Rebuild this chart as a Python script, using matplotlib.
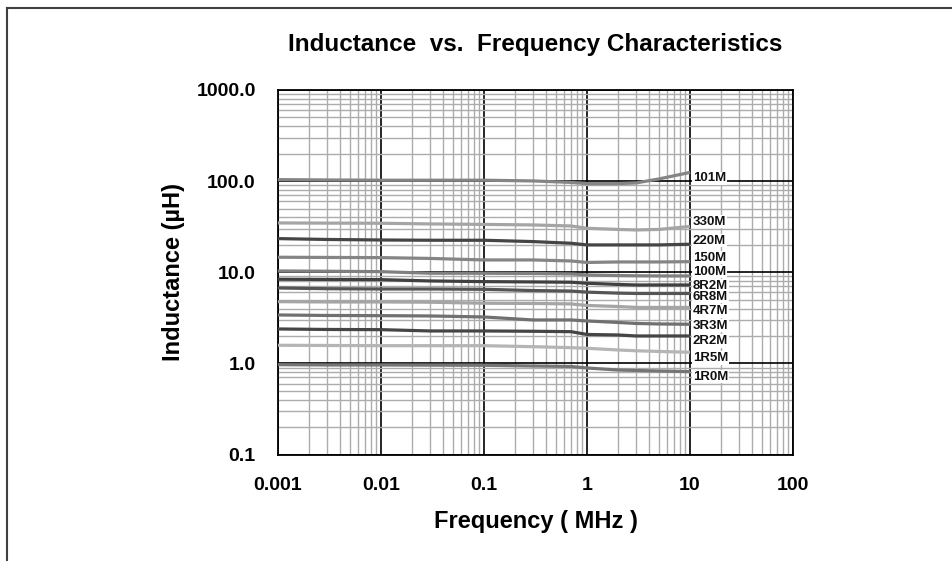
import numpy as np
import matplotlib
matplotlib.use("Agg")
import matplotlib.pyplot as plt
from matplotlib.lines import Line2D
from matplotlib.ticker import LogLocator, NullFormatter

plt.rcParams['font.family'] = ['Liberation Sans', 'DejaVu Sans']

# ---- data ----
freq = [0.001, 0.003, 0.01, 0.03, 0.1, 0.3, 0.7, 1, 2, 3, 5, 10]  # MHz

names = ["101M", "330M", "220M", "150M", "100M", "8R2M", "6R8M",
         "4R7M", "3R3M", "2R2M", "1R5M", "1R0M"]

L_101M = [103.9, 103.0, 102.3, 102.3, 102.3, 100.5, 96.8, 93.9, 93.9, 95.5, 105.7, 124.6]
L_330M = [34.76, 34.6, 34.5, 33.9, 33.5, 33.05, 32.2, 30.4, 29.5, 29.1, 29.5, 31.8]
L_220M = [23.4, 22.9, 22.6, 22.45, 22.45, 21.7, 20.8, 19.95, 19.95, 19.95, 19.95, 20.3]
L_150M = [14.61, 14.54, 14.47, 14.18, 13.65, 13.65, 13.3, 12.81, 12.97, 12.97, 12.97, 13.07]
L_100M = [10.33, 10.26, 10.15, 9.75, 9.75, 9.70, 9.58, 9.34, 9.2, 9.15, 9.11, 9.11]
L_8R2M = [8.38, 8.34, 8.30, 8.03, 7.89, 7.83, 7.77, 7.57, 7.35, 7.25, 7.25, 7.25]
L_6R8M = [6.72, 6.60, 6.55, 6.55, 6.50, 6.30, 6.22, 6.05, 5.90, 5.85, 5.85, 5.85]
L_4R7M = [4.757, 4.72, 4.72, 4.69, 4.57, 4.545, 4.49, 4.32, 4.21, 4.11, 4.11, 4.11]
L_3R3M = [3.399, 3.356, 3.339, 3.314, 3.231, 2.995, 2.995, 2.920, 2.812, 2.742, 2.707, 2.687]
L_2R2M = [2.386, 2.356, 2.344, 2.268, 2.268, 2.251, 2.228, 2.076, 2.050, 1.999, 1.999, 1.999]
L_1R5M = [1.580, 1.572, 1.564, 1.564, 1.564, 1.525, 1.487, 1.465, 1.403, 1.375, 1.351, 1.324]
L_1R0M = [0.968, 0.960, 0.960, 0.956, 0.953, 0.936, 0.925, 0.890, 0.846, 0.836, 0.825, 0.811]

series = [L_101M, L_330M, L_220M, L_150M, L_100M, L_8R2M, L_6R8M,
          L_4R7M, L_3R3M, L_2R2M, L_1R5M, L_1R0M]

xticks = [0.001, 0.01, 0.1, 1, 10, 100]
xticklabels = ["0.001", "0.01", "0.1", "1", "10", "100"]
yticks = [0.1, 1, 10, 100, 1000]
yticklabels = ["0.1", "1.0", "10.0", "100.0", "1000.0"]

# ---- styles ----
colors = ["#858585", "#a5a5a5", "#454545", "#858585", "#808080", "#404040",
          "#555555", "#a5a5a5", "#707070", "#454545", "#b5b5b5", "#757575"]
label_dy = [-4.2, 3.5, 2.6, 2.9, 3.1, -0.7, -2.4, -2.5, -1.0, -3.6, -4.1, -3.6]  # points

W, H = 952, 561
fig = plt.figure(figsize=(W / 100, H / 100), dpi=100)
ax = fig.add_axes([278 / W, (H - 454.5) / H, (793 - 278) / W, (454.5 - 90) / H])

ax.set_xscale("log")
ax.set_yscale("log")
ax.set_xlim(0.001, 100)
ax.set_ylim(0.1, 1000)

# grid
ax.xaxis.set_minor_locator(LogLocator(base=10, subs=np.arange(2, 10)))
ax.yaxis.set_minor_locator(LogLocator(base=10, subs=np.arange(2, 10)))
ax.xaxis.set_minor_formatter(NullFormatter())
ax.yaxis.set_minor_formatter(NullFormatter())
ax.grid(which="minor", color="#acacac", linewidth=1.0)
ax.grid(which="major", color="#000000", linewidth=1.2)
ax.set_axisbelow(True)

for s, c in zip(series, colors):
    ax.plot(freq, s, color=c, linewidth=2.3, solid_capstyle="butt", zorder=3)

for name, s, dy in zip(names, series, label_dy):
    ax.annotate(name, xy=(freq[-1], s[-1]), xytext=(2.0, dy), textcoords="offset points",
                ha="left", va="center", fontsize=9.5, fontweight="bold", color="#111111",
                bbox=dict(boxstyle="square,pad=0.05", fc="white", ec="none"), zorder=4)

ax.set_xticks(xticks)
ax.set_xticklabels(xticklabels)
ax.set_yticks(yticks)
ax.set_yticklabels(yticklabels)
ax.tick_params(which="both", length=0)
ax.tick_params(axis="x", pad=16, labelsize=14)
ax.tick_params(axis="y", pad=16, labelsize=14)
for lab in ax.get_xticklabels() + ax.get_yticklabels():
    lab.set_fontweight("bold")

for sp in ax.spines.values():
    sp.set_color("black")
    sp.set_linewidth(1.3)

ax.set_xlabel("Frequency ( MHz )", fontsize=17, fontweight="bold", labelpad=12)
ax.set_ylabel("Inductance (µH)", fontsize=17, fontweight="bold", labelpad=8)
fig.text(535.5 / W, 1 - 45 / H, "Inductance  vs.  Frequency Characteristics",
         ha="center", va="center", fontsize=17.5, fontweight="bold")

# outer frame (partial)
fig.add_artist(Line2D([7 / W, 1.0], [1 - 8 / H, 1 - 8 / H], transform=fig.transFigure,
                      color="#404040", linewidth=1.5))
fig.add_artist(Line2D([7 / W, 7 / W], [1 - 8 / H, 0.0], transform=fig.transFigure,
                      color="#404040", linewidth=1.5))

fig.savefig("out.png", dpi=100)
